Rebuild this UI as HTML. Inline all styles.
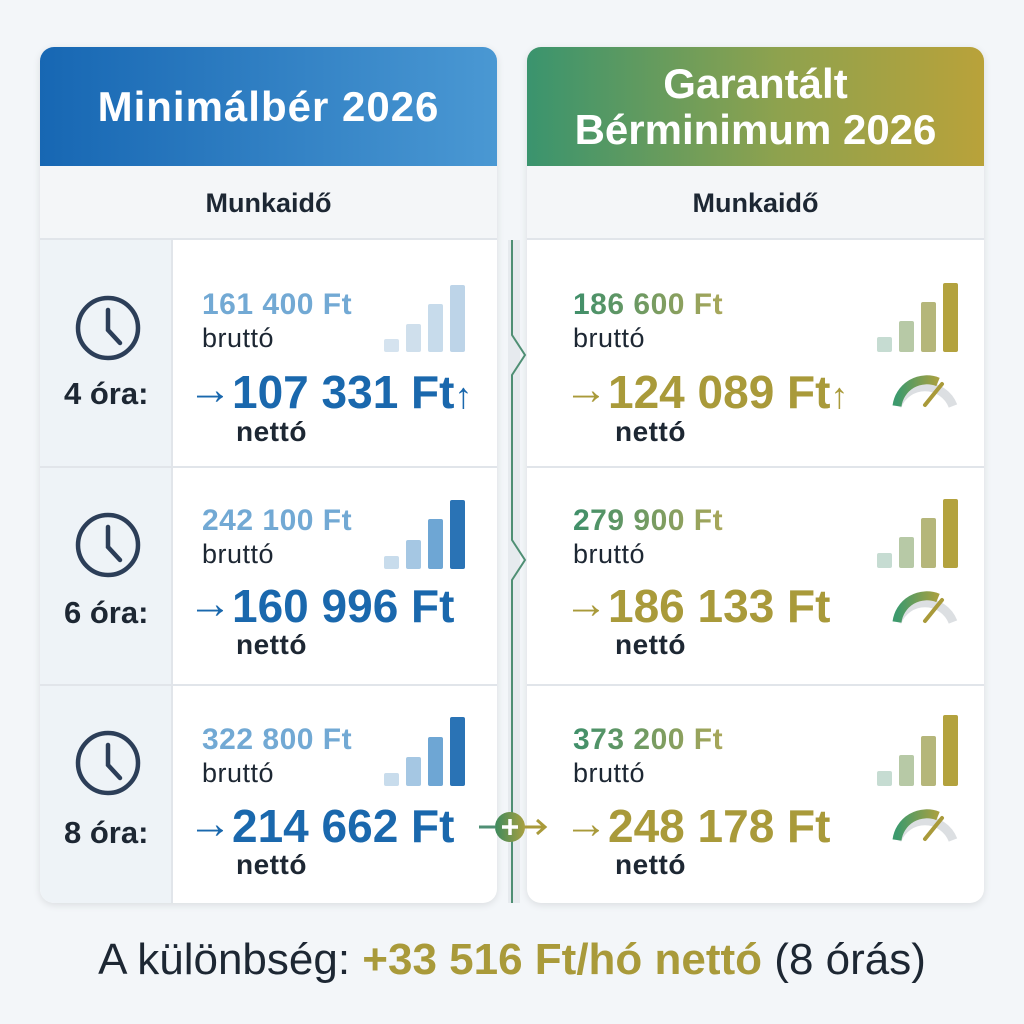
<!DOCTYPE html>
<html><head><meta charset="utf-8"><style>
*{margin:0;padding:0;box-sizing:border-box}
body{width:1024px;height:1024px;background:#f3f6f9;font-family:"Liberation Sans",sans-serif;position:relative;overflow:hidden}
.a{position:absolute;white-space:nowrap}
.card{position:absolute;top:47px;width:457px;height:856px;background:#fff;border-radius:14px;box-shadow:0 2px 8px rgba(0,0,0,.1);overflow:hidden}
.hd{position:absolute;left:0;top:0;width:100%;height:119px;color:#fff;font-weight:bold;font-size:42px;text-align:center;display:flex;align-items:center;justify-content:center;line-height:46px}
.sub{position:absolute;left:0;top:119px;width:100%;height:74px;background:#f4f6f8;border-bottom:2px solid #e1e5ea;font-size:27px;font-weight:bold;color:#1d2733;text-align:center;line-height:74px}
.sep{position:absolute;left:0;width:100%;height:2px;background:#e1e5ea}
.bv{font-size:30px;font-weight:bold;line-height:32px;letter-spacing:.5px}
.bt{font-size:27px;color:#1d2733;line-height:30px;letter-spacing:.5px}
.nv{font-size:46px;font-weight:bold;line-height:50px}
.ar{display:inline-block;width:44px;font-size:44px;font-weight:bold;position:relative;top:-4px}
.nt{font-size:28px;font-weight:bold;color:#1d2733;line-height:30px;letter-spacing:.5px}
.ora{font-size:31px;font-weight:bold;color:#1d2733;line-height:34px}
.bar{position:absolute;width:15px;border-radius:2px}
</style></head><body>

<div class="card" style="left:40px">
 <div class="hd" style="background:linear-gradient(90deg,#1767b3,#4a98d3);letter-spacing:1px">Minimálbér 2026</div>
 <div class="sub">Munkaidő</div>
 <div style="position:absolute;left:0;top:193px;width:133px;height:663px;background:#eef3f7;border-right:2px solid #e1e5ea"></div>
 <div class="sep" style="top:419px"></div>
 <div class="sep" style="top:637px"></div>
</div>

<div class="card" style="left:527px">
 <div class="hd" style="background:linear-gradient(90deg,#3a946e,#8ea24e 55%,#b9a23a)">Garantált<br>Bérminimum 2026</div>
 <div class="sub">Munkaidő</div>
 <div class="sep" style="top:419px"></div>
 <div class="sep" style="top:637px"></div>
</div>

<div class="a" style="left:508px;top:240px;width:12px;height:663px;background:#e6eaee"></div>
<svg class="a" style="left:495px;top:240px" width="50" height="663">
 <polyline points="17,0 17,95 30,115 17,135 17,300 30,320 17,340 17,663" fill="none" stroke="#4f8f74" stroke-width="2"/>
</svg>

<svg class="a" style="left:0;top:0" width="180" height="1024">
 <g fill="none" stroke="#2c3e58" stroke-width="4.5" stroke-linecap="round">
  <circle cx="108" cy="328" r="30"/><polyline points="108,310 108,330 120,343"/>
  <circle cx="108" cy="545" r="30"/><polyline points="108,527 108,547 120,560"/>
  <circle cx="108" cy="763" r="30"/><polyline points="108,745 108,765 120,778"/>
 </g>
</svg>
<div class="a ora" style="left:64px;top:377px">4 óra:</div>
<div class="a ora" style="left:64px;top:596px">6 óra:</div>
<div class="a ora" style="left:64px;top:816px">8 óra:</div>

<div class="a bv" style="left:202px;top:289px;color:#72a9d4">161 400 Ft</div>
<div class="a bt" style="left:202px;top:323px">bruttó</div>
<div class="a nv" style="left:188px;top:367px;color:#1a68ad"><span class="ar">→</span>107 331 Ft<span style="font-weight:normal;font-size:36px">↑</span></div>
<div class="a nt" style="left:236px;top:417px">nettó</div>

<div class="a bv" style="left:202px;top:505px;color:#72a9d4">242 100 Ft</div>
<div class="a bt" style="left:202px;top:539px">bruttó</div>
<div class="a nv" style="left:188px;top:581px;color:#1a68ad"><span class="ar">→</span>160 996 Ft</div>
<div class="a nt" style="left:236px;top:630px">nettó</div>

<div class="a bv" style="left:202px;top:724px;color:#72a9d4">322 800 Ft</div>
<div class="a bt" style="left:202px;top:758px">bruttó</div>
<div class="a nv" style="left:188px;top:801px;color:#1a68ad"><span class="ar">→</span>214 662 Ft</div>
<div class="a nt" style="left:236px;top:850px">nettó</div>

<div class="bar" style="left:384px;top:339px;height:13px;background:#d5e3ef"></div>
<div class="bar" style="left:406px;top:324px;height:28px;background:#cfdfec"></div>
<div class="bar" style="left:428px;top:304px;height:48px;background:#c7dbeb"></div>
<div class="bar" style="left:450px;top:285px;height:67px;background:#bdd4e8"></div>

<div class="bar" style="left:384px;top:556px;height:13px;background:#c8dcec"></div>
<div class="bar" style="left:406px;top:540px;height:29px;background:#a5c7e3"></div>
<div class="bar" style="left:428px;top:519px;height:50px;background:#6ea6d4"></div>
<div class="bar" style="left:450px;top:500px;height:69px;background:#2a73b5"></div>

<div class="bar" style="left:384px;top:773px;height:13px;background:#c8dcec"></div>
<div class="bar" style="left:406px;top:757px;height:29px;background:#a5c7e3"></div>
<div class="bar" style="left:428px;top:737px;height:49px;background:#6ea6d4"></div>
<div class="bar" style="left:450px;top:717px;height:69px;background:#2a73b5"></div>

<div class="a bv" style="left:573px;top:289px;background:linear-gradient(90deg,#3f8f6a,#a9a75a);-webkit-background-clip:text;color:transparent">186 600 Ft</div>
<div class="a bt" style="left:573px;top:323px">bruttó</div>
<div class="a nv" style="left:564px;top:367px;color:#a99a3a"><span class="ar">→</span>124 089 Ft<span style="font-weight:normal;font-size:36px">↑</span></div>
<div class="a nt" style="left:615px;top:417px">nettó</div>

<div class="a bv" style="left:573px;top:505px;background:linear-gradient(90deg,#3f8f6a,#a9a75a);-webkit-background-clip:text;color:transparent">279 900 Ft</div>
<div class="a bt" style="left:573px;top:539px">bruttó</div>
<div class="a nv" style="left:564px;top:581px;color:#a99a3a"><span class="ar">→</span>186 133 Ft</div>
<div class="a nt" style="left:615px;top:630px">nettó</div>

<div class="a bv" style="left:573px;top:724px;background:linear-gradient(90deg,#3f8f6a,#a9a75a);-webkit-background-clip:text;color:transparent">373 200 Ft</div>
<div class="a bt" style="left:573px;top:758px">bruttó</div>
<div class="a nv" style="left:564px;top:801px;color:#a99a3a"><span class="ar">→</span>248 178 Ft</div>
<div class="a nt" style="left:615px;top:850px">nettó</div>

<div class="bar" style="left:877px;top:337px;height:15px;background:#c6dcd2"></div>
<div class="bar" style="left:899px;top:321px;height:31px;background:#b7c9a6"></div>
<div class="bar" style="left:921px;top:302px;height:50px;background:#b5b67a"></div>
<div class="bar" style="left:943px;top:283px;height:69px;background:#b3a23e"></div>

<div class="bar" style="left:877px;top:553px;height:15px;background:#c6dcd2"></div>
<div class="bar" style="left:899px;top:537px;height:31px;background:#b7c9a6"></div>
<div class="bar" style="left:921px;top:518px;height:50px;background:#b5b67a"></div>
<div class="bar" style="left:943px;top:499px;height:69px;background:#b3a23e"></div>

<div class="bar" style="left:877px;top:771px;height:15px;background:#c6dcd2"></div>
<div class="bar" style="left:899px;top:755px;height:31px;background:#b7c9a6"></div>
<div class="bar" style="left:921px;top:736px;height:50px;background:#b5b67a"></div>
<div class="bar" style="left:943px;top:715px;height:71px;background:#b3a23e"></div>

<svg class="a" style="left:880px;top:360px" width="90" height="280">
 <defs><linearGradient id="g" x1="0" x2="1"><stop offset="0" stop-color="#3d9a6d"/><stop offset="1" stop-color="#a9a040"/></linearGradient></defs>
 <g fill="none" stroke-width="9">
  <path d="M17,46 A30,30 0 0 1 73,46" stroke="#dcdfe2"/>
  <path d="M17,46 A30,30 0 0 1 58,22" stroke="url(#g)"/>
  <path d="M17,262 A30,30 0 0 1 73,262" stroke="#dcdfe2"/>
  <path d="M17,262 A30,30 0 0 1 58,238" stroke="url(#g)"/>
 </g>
 <line x1="45" y1="45" x2="62" y2="24" stroke="#a99a3a" stroke-width="4" stroke-linecap="round"/>
 <line x1="45" y1="261" x2="62" y2="240" stroke="#a99a3a" stroke-width="4" stroke-linecap="round"/>
</svg>
<svg class="a" style="left:880px;top:800px" width="90" height="50">
 <defs><linearGradient id="g2" x1="0" x2="1"><stop offset="0" stop-color="#3d9a6d"/><stop offset="1" stop-color="#a9a040"/></linearGradient></defs>
 <g fill="none" stroke-width="9">
  <path d="M17,40 A30,30 0 0 1 73,40" stroke="#dcdfe2"/>
  <path d="M17,40 A30,30 0 0 1 58,16" stroke="url(#g2)"/>
 </g>
 <line x1="45" y1="39" x2="62" y2="18" stroke="#a99a3a" stroke-width="4" stroke-linecap="round"/>
</svg>

<svg class="a" style="left:465px;top:805px" width="100" height="44">
 <defs><linearGradient id="pg" x1="0" x2="1"><stop offset="0" stop-color="#3e8a5e"/><stop offset="1" stop-color="#a9a040"/></linearGradient></defs>
 <line x1="14" y1="22" x2="30" y2="22" stroke="#4f8f74" stroke-width="3"/>
 <line x1="58" y1="22" x2="80" y2="22" stroke="#a99a3a" stroke-width="3"/>
 <polyline points="72,15 80,22 72,29" fill="none" stroke="#a99a3a" stroke-width="3"/>
 <circle cx="45" cy="22" r="15" fill="url(#pg)"/>
 <path d="M45,14 V30 M37,22 H53" stroke="#fff" stroke-width="3.5"/>
</svg>

<div class="a" style="left:0;width:1024px;top:935px;text-align:center;font-size:44px;color:#1d2733;line-height:50px">A különbség: <b style="color:#a99a3a">+33 516 Ft/hó nettó</b> (8 órás)</div>
</body></html>
